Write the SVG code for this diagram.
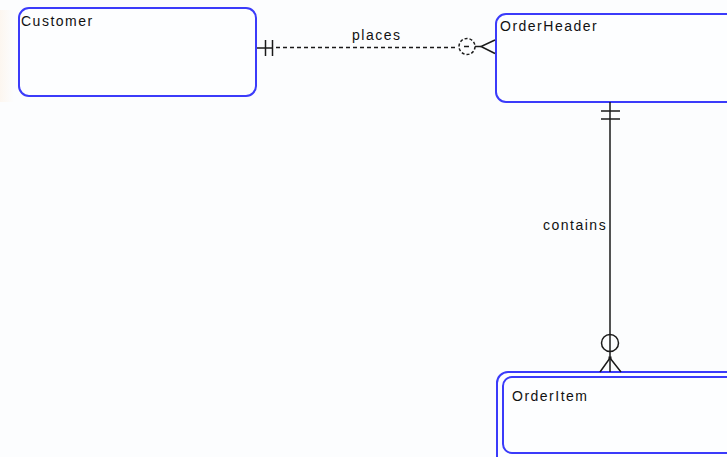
<svg xmlns="http://www.w3.org/2000/svg" width="727" height="457" viewBox="0 0 727 457">
  <style>
    .entity { fill: #fdfeff; stroke: #3b3bfa; stroke-width: 2; }
    .label { font-family: "Liberation Sans", Arial, sans-serif; font-size: 14px; letter-spacing: 1.5px; fill: #111; }
    .rel { fill: none; stroke: #1a1a1a; stroke-width: 1.5; }
    .dash { stroke-dasharray: 4 3; }
  </style>
  <defs>
    <linearGradient id="edgeTint" x1="0" y1="0" x2="1" y2="0">
      <stop offset="0" stop-color="#fdf5ec" stop-opacity="0.8"/>
      <stop offset="1" stop-color="#fdf5ec" stop-opacity="0"/>
    </linearGradient>
  </defs>

  <!-- page background -->
  <rect x="0" y="0" width="727" height="457" fill="#fcfdfe"/>
  <rect x="0" y="10" width="14" height="92" fill="url(#edgeTint)"/>

  <!-- entities -->
  <g id="customer">
    <rect class="entity" x="19" y="8" width="237" height="88" rx="10"/>
    <text class="label" x="21" y="26">Customer</text>
  </g>

  <g id="order-header">
    <rect class="entity" x="496" y="14" width="245" height="88" rx="10"/>
    <text class="label" x="500" y="31">OrderHeader</text>
  </g>

  <g id="order-item">
    <rect class="entity" x="497" y="372" width="245" height="95" rx="11"/>
    <rect class="entity" x="503" y="377" width="239" height="76" rx="9"/>
    <text class="label" x="512" y="401">OrderItem</text>
  </g>

  <!-- relationships -->
  <g id="connectors">
    <!-- places: Customer (one and only one) to OrderHeader (zero or many), non-identifying -->
    <g id="rel-places">
      <line class="rel" x1="257" y1="48" x2="273" y2="48"/>
      <line class="rel" x1="265.5" y1="40" x2="265.5" y2="56"/>
      <line class="rel" x1="272.5" y1="40" x2="272.5" y2="56"/>
      <line class="rel dash" x1="276" y1="47.5" x2="458" y2="47.5"/>
      <circle class="rel" cx="467" cy="46.5" r="8" stroke-dasharray="3 2"/>
      <line class="rel" x1="464" y1="46.5" x2="469" y2="46.5"/>
      <line class="rel" x1="475" y1="46.5" x2="481" y2="46.5"/>
      <polyline class="rel" points="495,40 481,46.5 495,53.5"/>
      <text class="label" x="352" y="40">places</text>
    </g>

    <!-- contains: OrderHeader (one and only one) to OrderItem (zero or many), identifying -->
    <g id="rel-contains">
      <line class="rel" x1="610" y1="102" x2="610" y2="372"/>
      <line class="rel" x1="601" y1="111" x2="620" y2="111"/>
      <line class="rel" x1="601" y1="119" x2="620" y2="119"/>
      <circle class="rel" cx="610" cy="343" r="8.5"/>
      <polyline class="rel" points="600,372 610,358 621,372"/>
      <rect x="608.5" y="356.5" width="3" height="3" fill="#1a1a1a"/>
      <text class="label" x="543" y="230">contains</text>
    </g>
  </g>
</svg>
